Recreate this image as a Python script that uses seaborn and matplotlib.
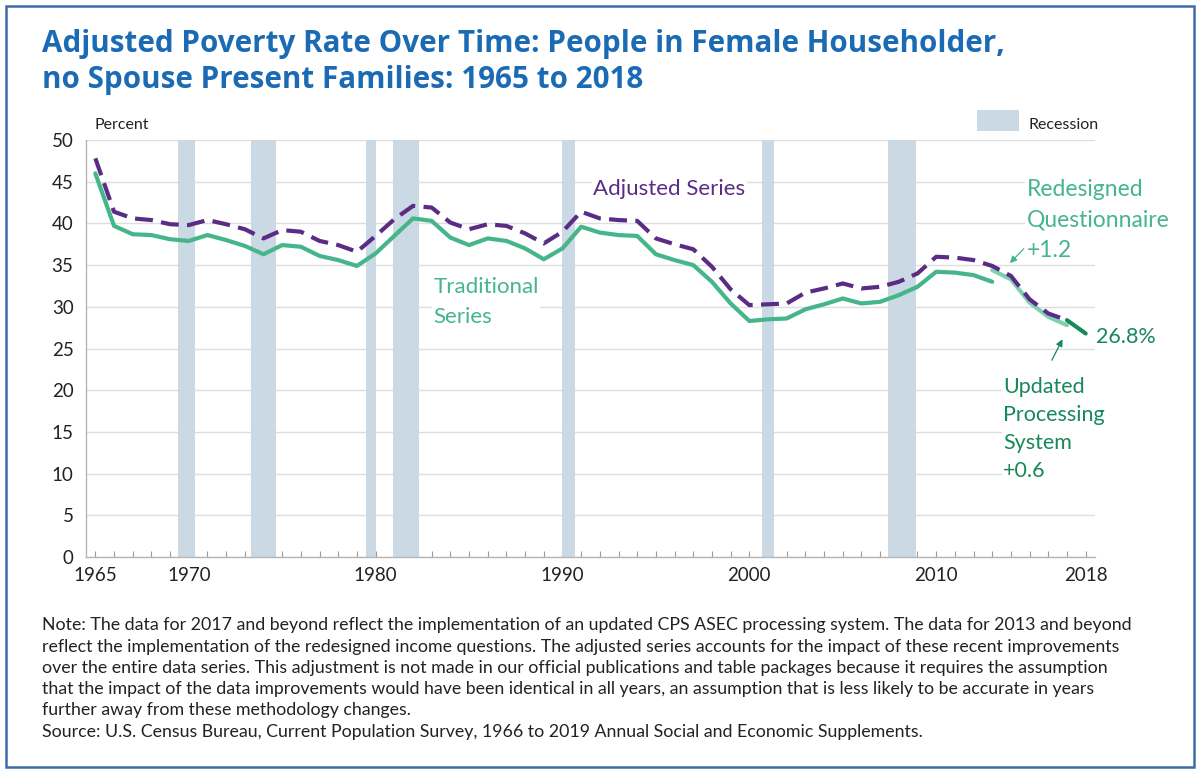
import numpy as np
import pandas as pd
import matplotlib
matplotlib.use("Agg")
import matplotlib.pyplot as plt
from matplotlib.patches import Rectangle
import seaborn as sns

# ==========================================
# data
# ==========================================
trad_years = list(range(1965, 2014))
trad_rate = [46.0, 39.7, 38.7, 38.6, 38.1, 37.9, 38.6, 38.0, 37.3, 36.3,
             37.4, 37.2, 36.1, 35.6, 34.9, 36.4, 38.5, 40.6, 40.3, 38.3,
             37.4, 38.2, 37.9, 37.0, 35.7, 37.0, 39.6, 38.9, 38.6, 38.5,
             36.3, 35.6, 35.0, 33.0, 30.4, 28.3, 28.5, 28.6, 29.7, 30.3,
             31.0, 30.4, 30.6, 31.4, 32.4, 34.2, 34.1, 33.8, 33.0]

adj_years = list(range(1965, 2018))
adj_rate = [47.8, 41.4, 40.6, 40.4, 39.9, 39.8, 40.4, 39.9, 39.3, 38.2,
            39.2, 39.0, 37.9, 37.4, 36.6, 38.5, 40.5, 42.1, 41.9, 40.1,
            39.3, 39.9, 39.7, 38.8, 37.6, 39.0, 41.4, 40.6, 40.4, 40.3,
            38.2, 37.5, 36.9, 34.8, 32.1, 30.2, 30.3, 30.4, 31.7, 32.2,
            32.8, 32.2, 32.4, 33.0, 34.0, 36.0, 35.9, 35.6, 34.9, 33.7,
            30.9, 29.2, 28.4]

redesign_years = [2013, 2014, 2015, 2016, 2017]
redesign_rate = [34.4, 33.3, 30.5, 28.8, 27.8]

updated_years = [2017, 2018]
updated_rate = [28.4, 26.8]

# recessions (start, end) as plotted, each year point sits mid-year
rec_start = [1969.42, 1973.33, 1979.50, 1980.92, 1990.00, 2000.67, 2007.42]
rec_end = [1970.33, 1974.67, 1980.04, 1982.33, 1990.67, 2001.33, 2008.92]

major_ticks = [1965, 1970, 1980, 1990, 2000, 2010, 2018]

# colours
C_TITLE = "#1b6bb4"
C_TRAD = "#45b58a"
C_ADJ = "#5b2c86"
C_REDES = "#7fd0b0"
C_UPD = "#17885a"
C_BAND = "#cbd9e4"
C_GRID = "#dedede"
C_BORDER = "#3d6ca8"

# ==========================================
# figure
# ==========================================
sns.set_theme(style="white")
plt.rcParams['font.family'] = ['Lato', 'DejaVu Sans']

W, H = 1200, 773
fig = plt.figure(figsize=(W / 100, H / 100), dpi=100)


def fx(x):
    return x / W


def fy(y):
    return 1 - y / H


ax = fig.add_axes([fx(86), fy(557), fx(1095) - fx(86), fy(140) - fy(557)])

for s, e in zip(rec_start, rec_end):
    ax.axvspan(s, e, color=C_BAND, lw=0, zorder=1)

df_trad = pd.DataFrame({"year": trad_years, "rate": trad_rate})
df_adj = pd.DataFrame({"year": adj_years, "rate": adj_rate})
df_red = pd.DataFrame({"year": redesign_years, "rate": redesign_rate})
df_upd = pd.DataFrame({"year": updated_years, "rate": updated_rate})

sns.lineplot(data=df_trad, x="year", y="rate", ax=ax, color=C_TRAD,
             linewidth=3.0, errorbar=None, zorder=3)
sns.lineplot(data=df_red, x="year", y="rate", ax=ax, color=C_REDES,
             linewidth=3.0, errorbar=None, zorder=3)
sns.lineplot(data=df_adj, x="year", y="rate", ax=ax, color=C_ADJ,
             linewidth=3.0, errorbar=None, zorder=4,
             linestyle=(0, (4.3, 2.0)), dash_capstyle="butt")
sns.lineplot(data=df_upd, x="year", y="rate", ax=ax, color=C_UPD,
             linewidth=3.0, errorbar=None, zorder=5)

ax.set_xlim(1964.5, 2018.5)
ax.set_ylim(0, 50)
ax.set_xlabel("")
ax.set_ylabel("")

ax.set_yticks(range(0, 51, 5))
ax.yaxis.grid(True, color=C_GRID, linewidth=1.0)
ax.set_axisbelow(True)
ax.set_xticks(major_ticks)
ax.set_xticks(range(1965, 2019), minor=True)
ax.tick_params(axis="x", which="both", direction="in", length=4, width=0.8,
               color="#999999", bottom=True, labelsize=13.5, pad=7,
               labelcolor="#222222")
ax.tick_params(axis="y", length=0, labelsize=13.5, pad=9, labelcolor="#222222")

for side in ["top", "right"]:
    ax.spines[side].set_visible(False)
for side in ["left", "bottom"]:
    ax.spines[side].set_color("#b5b5b5")
    ax.spines[side].set_linewidth(1.0)

# ---- annotations ----
box = dict(facecolor="white", edgecolor="none", pad=1)
ax.text(1991.65, 44.1, "Adjusted Series", color=C_ADJ, fontsize=16,
        va="center", ha="left", zorder=6, bbox=box)
ax.text(1983.1, 30.6, "Traditional\nSeries", color=C_TRAD, fontsize=16,
        va="center", ha="left", linespacing=1.65, zorder=6, bbox=box)
ax.text(2014.85, 40.4, "Redesigned\nQuestionnaire\n+1.2", color=C_TRAD,
        fontsize=16.5, va="center", ha="left", linespacing=1.55, zorder=6,
        bbox=box, clip_on=False)
ax.text(2013.57, 15.35, "Updated\nProcessing\nSystem\n+0.6", color=C_UPD,
        fontsize=15.5, va="center", ha="left", linespacing=1.5, zorder=6,
        bbox=box, clip_on=False)
ax.text(2018.55, 26.4, "26.8%", color=C_UPD, fontsize=15.5, va="center",
        ha="left", zorder=6, clip_on=False)

ax.annotate("", xy=(2013.84, 35.0), xytext=(2014.79, 37.2),
            arrowprops=dict(arrowstyle="-|>", color=C_TRAD, lw=0.9,
                            mutation_scale=10), zorder=6)
ax.annotate("", xy=(2016.83, 26.4), xytext=(2016.12, 23.3),
            arrowprops=dict(arrowstyle="-|>", color=C_UPD, lw=0.9,
                            mutation_scale=10), zorder=6)

# ---- header / legend / notes ----
fig.text(fx(42), fy(62), "Adjusted Poverty Rate Over Time: People in Female Householder,\n"
         "no Spouse Present Families: 1965 to 2018",
         color=C_TITLE, fontsize=21.3, fontweight="bold", family=["Open Sans", "DejaVu Sans"],
         va="center", ha="left", linespacing=1.25)

fig.text(fx(94), fy(125), "Percent", fontsize=11.5, color="#222222",
         va="center", ha="left")

fig.patches.append(Rectangle((fx(977), fy(131)), fx(1019) - fx(977), fy(110) - fy(131),
                             transform=fig.transFigure, color=C_BAND, lw=0))
fig.text(fx(1029), fy(125), "Recession", fontsize=11.5, color="#222222",
         va="center", ha="left")

note = ("Note: The data for 2017 and beyond reflect the implementation of an updated CPS ASEC processing system. "
        "The data for 2013 and beyond\n"
        "reflect the implementation of the redesigned income questions. The adjusted series accounts for the "
        "impact of these recent improvements\n"
        "over the entire data series. This adjustment is not made in our official publications and table "
        "packages because it requires the assumption\n"
        "that the impact of the data improvements would have been identical in all years, an assumption that "
        "is less likely to be accurate in years\n"
        "further away from these methodology changes.\n"
        "Source: U.S. Census Bureau, Current Population Survey, 1966 to 2019 Annual Social and Economic Supplements.")
fig.text(fx(42), fy(678.5), note, fontsize=12.8, color="#222222", va="center",
         ha="left", linespacing=1.41)

fig.patches.append(Rectangle((fx(6), fy(767)), fx(1194) - fx(6), fy(6) - fy(767),
                             transform=fig.transFigure, fill=False,
                             edgecolor=C_BORDER, lw=1.8))

fig.savefig("out.png", dpi=100)
